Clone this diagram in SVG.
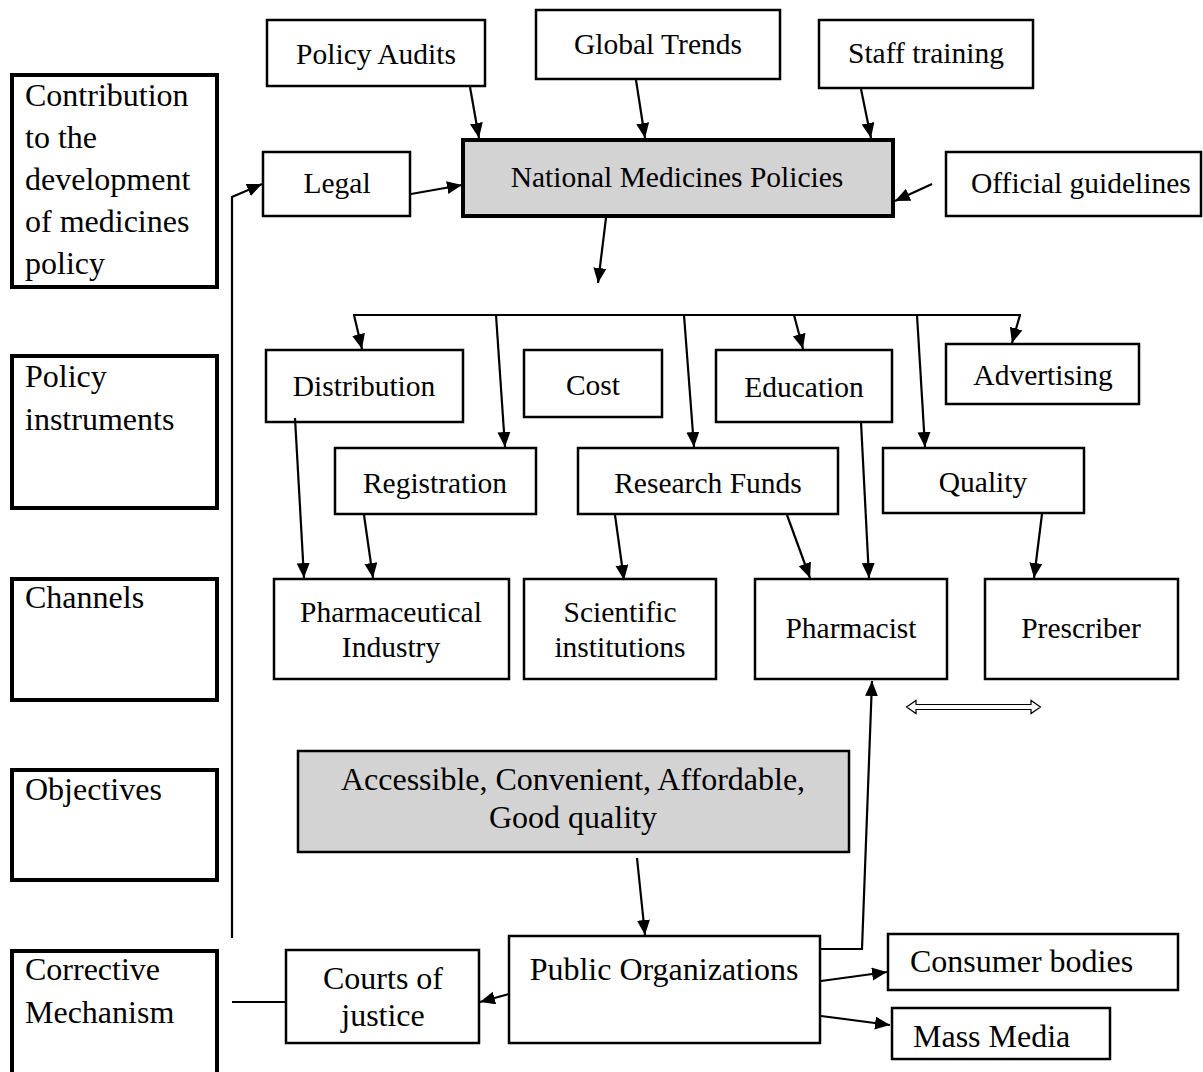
<svg xmlns="http://www.w3.org/2000/svg" width="1203" height="1072" viewBox="0 0 1203 1072">
<style>
.box{fill:#fff;stroke:#000;stroke-width:2.5}
.thick{fill:#fff;stroke:#000;stroke-width:4}
.gray{fill:#d3d3d3}
.t{font-family:"Liberation Serif","Times New Roman",serif;font-size:29.5px;fill:#000}
.b{font-size:32px}
.c{text-anchor:middle}
.ln{fill:none;stroke:#000;stroke-width:2.2}
.arr{fill:none;stroke:#000;stroke-width:2.2;marker-end:url(#ah)}
</style>
<defs>
<marker id="ah" markerUnits="userSpaceOnUse" markerWidth="16" markerHeight="14" refX="15" refY="6.5" orient="auto">
<path d="M0,0 L15,6.5 L0,13 z" fill="#000"/>
</marker>
</defs>
<rect width="1203" height="1072" fill="#fff"/>

<g id="left-contribution"><rect class="thick" x="12" y="75" width="205" height="212"/>
<text class="t b" x="25" y="106">Contribution</text><text class="t b" x="25" y="148">to the</text><text class="t b" x="25" y="190">development</text><text class="t b" x="25" y="232">of medicines</text><text class="t b" x="25" y="274">policy</text></g>
<g id="left-instruments"><rect class="thick" x="12" y="356" width="205" height="152"/>
<text class="t b" x="25" y="387">Policy</text><text class="t b" x="25" y="430">instruments</text></g>
<g id="left-channels"><rect class="thick" x="12" y="579" width="205" height="121"/>
<text class="t b" x="25" y="608">Channels</text></g>
<g id="left-objectives"><rect class="thick" x="12" y="770" width="205" height="110"/>
<text class="t b" x="25" y="800">Objectives</text></g>
<g id="left-corrective"><rect class="thick" x="12" y="951" width="205" height="130"/>
<text class="t b" x="25" y="980">Corrective</text><text class="t b" x="25" y="1023">Mechanism</text></g>

<g id="policy-audits"><rect class="box" x="267" y="20" width="218" height="66"/><text class="t c" x="376" y="64">Policy Audits</text></g>
<g id="global-trends"><rect class="box" x="536" y="10" width="244" height="69"/><text class="t c" x="658" y="54">Global Trends</text></g>
<g id="staff-training"><rect class="box" x="819" y="20" width="214" height="68"/><text class="t c" x="926" y="63">Staff training</text></g>
<g id="legal"><rect class="box" x="263" y="152" width="147" height="64"/><text class="t c" x="337" y="193">Legal</text></g>
<g id="nmp"><rect class="thick gray" x="463" y="140" width="430" height="76"/><text class="t c" x="677" y="187">National Medicines Policies</text></g>
<g id="official-guidelines"><rect class="box" x="946" y="152" width="255" height="64"/><text class="t" x="971" y="193">Official guidelines</text></g>

<g id="distribution"><rect class="box" x="266" y="350" width="197" height="72"/><text class="t c" x="364" y="396">Distribution</text></g>
<g id="cost"><rect class="box" x="524" y="350" width="138" height="67"/><text class="t c" x="593" y="395">Cost</text></g>
<g id="education"><rect class="box" x="716" y="350" width="176" height="72"/><text class="t c" x="804" y="397">Education</text></g>
<g id="advertising"><rect class="box" x="946" y="344" width="193" height="60"/><text class="t c" x="1043" y="385">Advertising</text></g>
<g id="registration"><rect class="box" x="335" y="448" width="201" height="66"/><text class="t c" x="435" y="493">Registration</text></g>
<g id="research-funds"><rect class="box" x="578" y="448" width="260" height="66"/><text class="t c" x="708" y="493">Research Funds</text></g>
<g id="quality"><rect class="box" x="883" y="448" width="201" height="65"/><text class="t c" x="983" y="492">Quality</text></g>

<g id="pharma-industry"><rect class="box" x="274" y="579" width="235" height="100"/><text class="t c" x="391" y="622">Pharmaceutical</text><text class="t c" x="391" y="657">Industry</text></g>
<g id="scientific"><rect class="box" x="524" y="579" width="192" height="100"/><text class="t c" x="620" y="622">Scientific</text><text class="t c" x="620" y="657">institutions</text></g>
<g id="pharmacist"><rect class="box" x="755" y="579" width="192" height="100"/><text class="t c" x="851" y="638">Pharmacist</text></g>
<g id="prescriber"><rect class="box" x="985" y="579" width="193" height="100"/><text class="t c" x="1081" y="638">Prescriber</text></g>

<g id="objectives-box"><rect class="box gray" x="298" y="751" width="551" height="101"/><text class="t b c" x="573" y="790">Accessible, Convenient, Affordable,</text><text class="t b c" x="573" y="828">Good quality</text></g>
<g id="courts"><rect class="box" x="286" y="950" width="193" height="93"/><text class="t b c" x="383" y="989">Courts of</text><text class="t b c" x="383" y="1026">justice</text></g>
<g id="public-org"><rect class="box" x="509" y="936" width="311" height="107"/><text class="t b c" x="664" y="980">Public Organizations</text></g>
<g id="consumer"><rect class="box" x="888" y="934" width="290" height="56"/><text class="t b" x="910" y="972">Consumer bodies</text></g>
<g id="mass-media"><rect class="box" x="892" y="1008" width="218" height="51"/><text class="t b" x="913" y="1047">Mass Media</text></g>

<g id="connectors">
<line class="arr" x1="470" y1="87" x2="479" y2="138"/>
<line class="arr" x1="636" y1="80" x2="645" y2="138"/>
<line class="arr" x1="861" y1="89" x2="871" y2="138"/>
<line class="arr" x1="932" y1="184" x2="895" y2="201"/>
<line class="arr" x1="411" y1="194" x2="462" y2="185"/>
<polyline class="arr" points="232,938 232,197 262,184"/>
<line class="arr" x1="606" y1="218" x2="598" y2="283"/>
<line class="ln" x1="353" y1="315" x2="1021" y2="315"/>
<line class="arr" x1="354" y1="315" x2="362" y2="349"/>
<line class="arr" x1="496" y1="315" x2="505" y2="447"/>
<line class="arr" x1="684" y1="315" x2="694" y2="447"/>
<line class="arr" x1="794" y1="315" x2="803" y2="349"/>
<line class="arr" x1="917" y1="315" x2="925" y2="447"/>
<line class="arr" x1="1020" y1="315" x2="1012" y2="343"/>
<line class="arr" x1="295" y1="418" x2="304" y2="578"/>
<line class="arr" x1="364" y1="515" x2="373" y2="578"/>
<line class="arr" x1="615" y1="515" x2="624" y2="580"/>
<line class="arr" x1="787" y1="515" x2="810" y2="578"/>
<line class="arr" x1="861" y1="422" x2="869" y2="578"/>
<line class="arr" x1="1042" y1="514" x2="1034" y2="578"/>
<line class="arr" x1="637" y1="858" x2="645" y2="935"/>
<polyline class="arr" points="821,949 862,949 872,681"/>
<line class="ln" x1="232" y1="1002" x2="286" y2="1002"/>
<line class="arr" x1="509" y1="994" x2="480" y2="1002"/>
<line class="arr" x1="821" y1="981" x2="887" y2="972"/>
<line class="arr" x1="821" y1="1016" x2="890" y2="1025"/>
<path d="M906.5,707 L916,700.5 L916,704.5 L1031,704.5 L1031,700.5 L1040.5,707 L1031,713.5 L1031,709.5 L916,709.5 L916,713.5 Z" fill="#fff" stroke="#000" stroke-width="1.2"/>
</g>
</svg>
